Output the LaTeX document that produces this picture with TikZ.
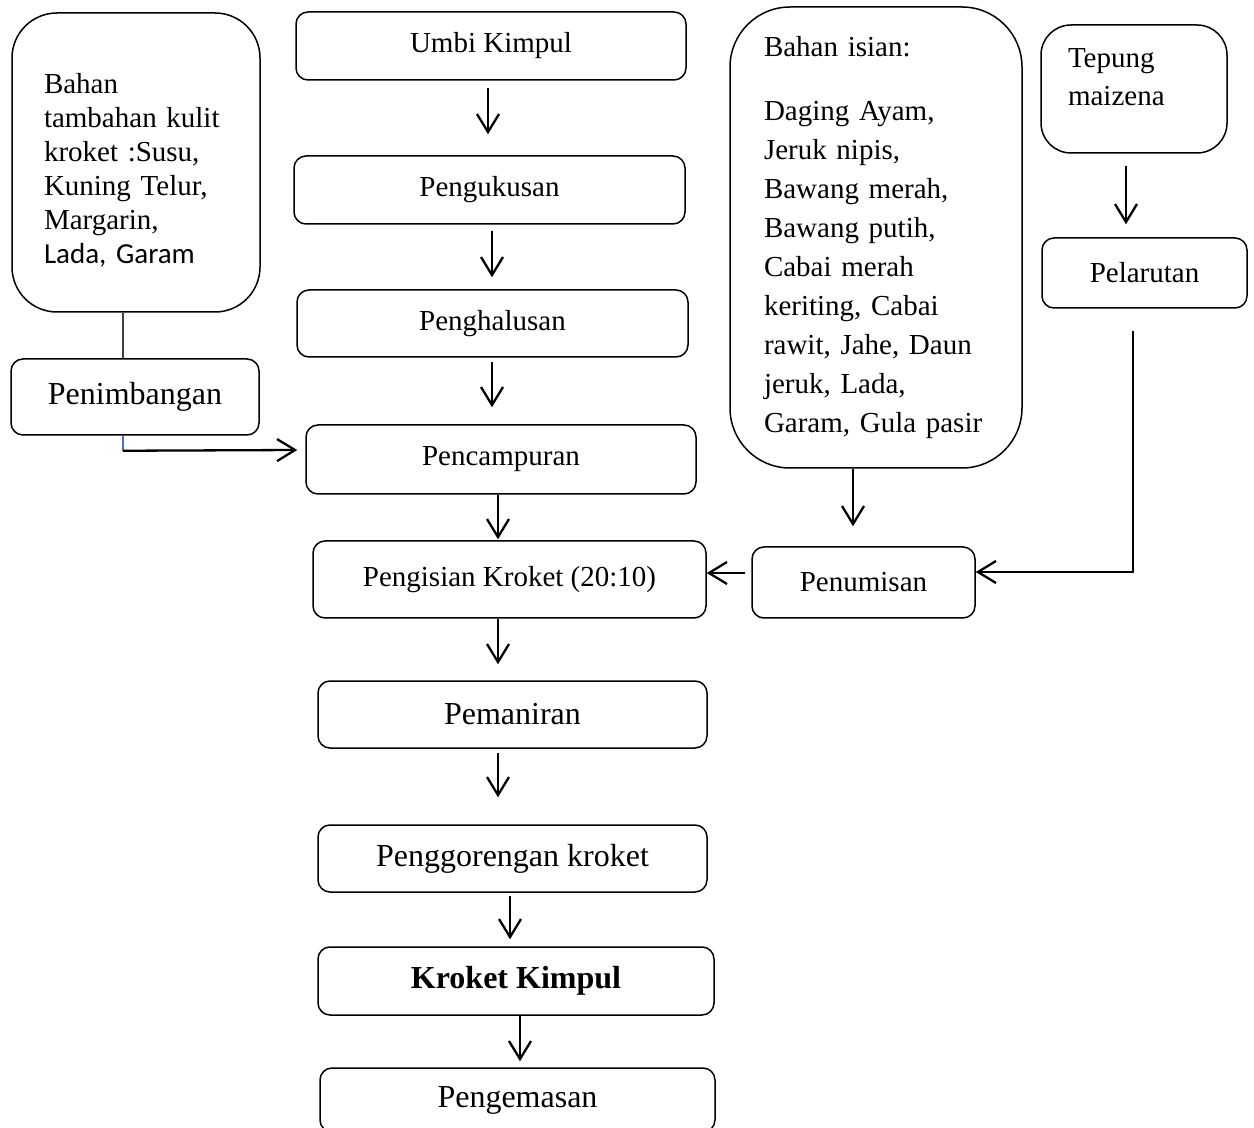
\documentclass[tikz,border=0pt]{standalone}
\usepackage{fontspec}
\setmainfont{Liberation Serif}
\newfontfamily\calib{Carlito}
\usetikzlibrary{arrows.meta,calc}
\begin{document}
\begin{tikzpicture}[x=0.5pt,y=-0.5pt,
 box/.style={draw=black, line width=0.75pt, rounded corners=6pt, inner sep=0pt, align=center},
 sm/.style={font=\fontsize{14.5}{17}\selectfont},
 bg/.style={font=\fontsize{16}{19}\selectfont},
 arr/.style={line width=1.15pt, -{Straight Barb[length=9pt,width=11pt]}},
 greyline/.style={line width=0.6pt, draw={black!75}},
 blueline/.style={line width=0.6pt, draw={rgb,255:red,68;green,114;blue,196}}]
\useasboundingbox (0,0) rectangle (1254,1128);
% left column
\node[box, sm, rounded corners=22.5pt, minimum width=124pt, minimum height=149.5pt,
      text width=92pt, inner xsep=16pt, align=left] (bahan) at (136,162.5)
 {\rule{0pt}{17.5pt}Bahan\\ tambahan kulit\\ kroket :Susu,\\ Kuning Telur,\\ Margarin,\\ {\calib Lada, Garam}};
\node[box, bg, minimum width=124pt, minimum height=38pt] (timbang) at (135,397) {Penimbangan};
% main column
\node[box, sm, minimum width=195pt, minimum height=34pt] (umbi) at (491,46) {Umbi Kimpul};
\node[box, sm, minimum width=195.5pt, minimum height=34pt] (kukus) at (489.5,190) {Pengukusan};
\node[box, sm, minimum width=195.5pt, minimum height=33.5pt] (halus) at (492.5,323.5) {Penghalusan};
\node[box, sm, minimum width=195pt, minimum height=34.5pt] (campur) at (501,459.5) {Pencampuran};
\node[box, sm, minimum width=196.5pt, minimum height=38.5pt] (isi) at (509.5,579.5) {Pengisian Kroket (20:10)};
\node[box, bg, minimum width=194.5pt, minimum height=33.5pt] (maniran) at (512.5,714.5) {Pemaniran};
\node[box, bg, minimum width=194.5pt, minimum height=33.5pt] (goreng) at (512.5,858.5) {Penggorengan kroket};
\node[box, bg, minimum width=198pt, minimum height=34pt] (kroket) at (516,981) {\bfseries Kroket Kimpul};
\node[box, bg, minimum width=197.5pt, minimum height=32pt] (kemas) at (517.5,1100) {Pengemasan};
% right side
\node[box, font=\fontsize{14.5}{19.5}\selectfont, rounded corners=30pt, minimum width=146pt, minimum height=230.5pt,
      text width=112pt, inner xsep=17pt, align=left] (isian) at (876,237.5)
 {Bahan isian:\\[12.5pt] Daging Ayam,\\ Jeruk nipis,\\ Bawang merah,\\ Bawang putih,\\ Cabai merah\\ keriting, Cabai\\ rawit, Jahe, Daun\\ jeruk, Lada,\\ Garam, Gula pasir};
\node[box, font=\fontsize{14.5}{19}\selectfont, rounded corners=15pt, minimum width=93pt, minimum height=64pt,
      text width=66pt, inner xsep=13.5pt, align=left] (tepung) at (1134,89)
 {Tepung\\ maizena\rule[-12pt]{0pt}{1pt}};
\node[box, sm, minimum width=102.5pt, minimum height=35pt] (larut) at (1144.5,273) {Pelarutan};
\node[box, sm, minimum width=111.5pt, minimum height=35.5pt] (numis) at (863.5,582.5) {Penumisan};
% connectors
\draw[arr] ($(umbi.south)+(-3,7)$) -- ($(kukus.north)+(-1.5,-21)$);
\draw[arr] ($(kukus.south)+(2.5,6)$) -- ($(halus.north)+(-0.5,-12)$);
\draw[arr] ($(halus.south)+(-0.5,4)$) -- ($(campur.north)+(-9,-17)$);
\draw[arr] ($(campur.south)+(-3,0)$) -- ($(isi.north)+(-11.5,-1)$);
\draw[arr] ($(isi.south)+(-11.5,0)$) -- ($(maniran.north)+(-14.5,-16)$);
\draw[arr] ($(maniran.south)+(-14.5,4)$) -- ($(goreng.north)+(-14.5,-27)$);
\draw[arr] ($(goreng.south)+(-2.5,3)$) -- ($(kroket.north)+(-6,-7)$);
\draw[arr] ($(kroket.south)+(4,0)$) -- ($(kemas.north)+(2.5,-6)$);
\draw[arr] ($(isian.south)+(-23,0)$) -- ($(numis.north)+(-10.5,-20)$);
\draw[arr] ($(tepung.south)+(-8,12)$) -- ($(larut.north)+(-18.5,-13)$);
\draw[arr] ($(numis.west)+(-6,-9.5)$) -- ($(isi.east)+(0,-6.5)$);
\draw[arr] ($(larut.south)+(-11.5,22)$) |- ($(numis.east)+(0,-10.5)$);
\draw[greyline] ($(bahan.south)+(-13,0)$) -- ($(timbang.north)+(-12,0)$);
\coordinate (c1) at ($(timbang.south)+(-12,15)$);
\draw[blueline] ($(timbang.south)+(-12,0)$) -- (c1);
\draw[arr] (c1) -- ($(campur.west)+(-8,-9.5)$);
\end{tikzpicture}
\end{document}
